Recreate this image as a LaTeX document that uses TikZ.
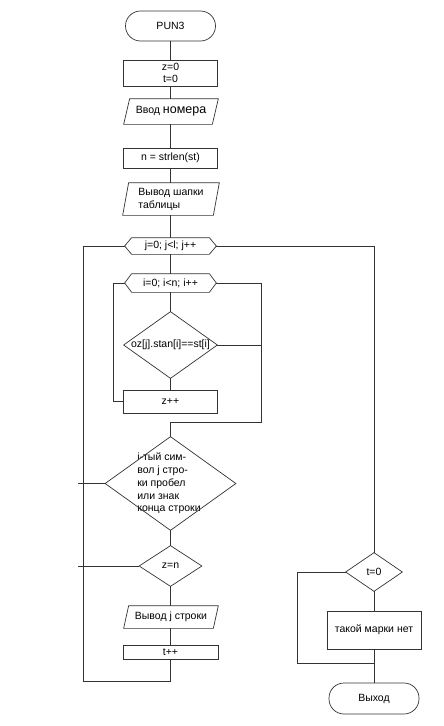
\documentclass[tikz,border=0pt]{standalone}
\usepackage{fontspec}
\setmainfont{Liberation Sans}
\begin{document}
\begin{tikzpicture}[x=1pt,y=-1pt,
  every path/.style={line width=0.7pt, draw=black!80},
  frame/.style={inner sep=0pt, font=\fontsize{10.5}{12}\selectfont, align=center},
  boxed/.style={frame, draw=black!80, line width=0.7pt},
  term/.style={boxed, rounded corners=15pt, minimum width=90pt, minimum height=30pt}]
\useasboundingbox[fill=white,draw=none] (0,0) rectangle (444,726);

% main column
\node[term] (start) at (170.5,26) {PUN3};
\node[boxed, minimum width=94pt, minimum height=26pt] (init) at (170.5,73) {z=0\\t=0};
\node[frame, minimum width=88pt, minimum height=25pt] (inp) at (171,111.5) {Ввод {\fontsize{12.5}{13}\selectfont номера}};
\draw ([xshift=3pt]inp.north west) -- ([xshift=3pt]inp.north east) -- ([xshift=-3pt]inp.south east) -- ([xshift=-3pt]inp.south west) -- cycle;
\node[boxed, minimum width=94pt, minimum height=20pt] (len) at (170.5,158) {n = strlen(st)};
\node[frame, minimum width=90pt, minimum height=32pt, align=left, font=\fontsize{10.5}{13}\selectfont] (head) at (171,199) {Вывод шапки\\таблицы\hspace*{11pt}};
\draw ([xshift=3pt]head.north west) -- ([xshift=3pt]head.north east) -- ([xshift=-3pt]head.south east) -- ([xshift=-3pt]head.south west) -- cycle;

\node[frame, minimum width=91pt, minimum height=16pt] (jl) at (170.5,246) {j=0; j<l; j++};
\draw (jl.west) -- ([xshift=7pt]jl.north west) -- ([xshift=-7pt]jl.north east) -- (jl.east) -- ([xshift=-7pt]jl.south east) -- ([xshift=7pt]jl.south west) -- cycle;
\node[frame, minimum width=91pt, minimum height=18pt] (il) at (170.5,283) {i=0; i<n; i++};
\draw (il.west) -- ([xshift=7pt]il.north west) -- ([xshift=-7pt]il.north east) -- (il.east) -- ([xshift=-7pt]il.south east) -- ([xshift=7pt]il.south west) -- cycle;

\node[frame, minimum width=93pt, minimum height=66pt] (cmp) at (170.5,345) {oz[j].stan[i]==st[i]};
\draw (cmp.north) -- (cmp.east) -- (cmp.south) -- (cmp.west) -- cycle;
\node[boxed, minimum width=94pt, minimum height=23pt] (zinc) at (170.5,401.5) {z++};

\node[frame, minimum width=130pt, minimum height=93pt, align=left, font=\fontsize{10.5}{12.7}\selectfont] (cb) at (169,483.5) {i-тый сим-\\вол j стро-\\ки пробел\\или знак\\конца строки};
\draw ([xshift=1.5pt]cb.north) -- ([xshift=1.5pt]cb.east) -- ([xshift=1.5pt]cb.south) -- ([xshift=1.5pt]cb.west) -- cycle;
\node[frame, minimum width=62pt, minimum height=40pt] (zn) at (170.5,566) {z=n};
\draw (zn.north) -- (zn.east) -- (zn.south) -- (zn.west) -- cycle;
\node[frame, minimum width=89pt, minimum height=22pt] (outj) at (171,617) {Вывод j строки};
\draw ([xshift=2.5pt]outj.north west) -- ([xshift=2.5pt]outj.north east) -- ([xshift=-2.5pt]outj.south east) -- ([xshift=-2.5pt]outj.south west) -- cycle;
\node[boxed, minimum width=95pt, minimum height=14pt] (tinc) at (170.5,652) {t++};

% right column
\node[frame, minimum width=56pt, minimum height=38pt] (t0) at (374,572) {t=0};
\draw (t0.north) -- (t0.east) -- (t0.south) -- (t0.west) -- cycle;
\node[boxed, minimum width=94pt, minimum height=38pt] (nomark) at (374,630) {такой марки нет};
\node[term, minimum height=31pt] (exit) at (374,698.5) {Выход};

% connectors
\draw (start.south) -- (init.north);
\draw (init.south) -- (inp.north -| init.south);
\draw (inp.south -| init.south) -- (len.north);
\draw (len.south) -- (head.north -| len.south);
\draw (head.south -| len.south) -- (jl.north);
\draw (jl.south) -- (il.north);
\draw (il.south) -- (cmp.north);
\draw (cmp.south) -- (zinc.north);
\draw (zinc.west) -- ++(-10,0) |- (il.west);
\draw (il.east) -| (261,422) -| (zn.north |- cb.north);
\draw (cmp.east) -- (261,345);
\draw (zn.north |- cb.south) -- (zn.north);
\draw (zn.south) -- (outj.north -| zn.south);
\draw (outj.south -| zn.south) -- (tinc.north);
\draw (tinc.south) -- ++(0,22) -| (83,246) -- (jl.west);
\draw ([xshift=1.5pt]cb.west) -- (78,483.5);
\draw (zn.west) -- (78,566);
\draw (jl.east) -| (t0.north);
\draw (t0.south) -- (nomark.north);
\draw (nomark.south) -- (exit.north);
\draw (t0.west) -| (297,663) -- (374,663);
\end{tikzpicture}
\end{document}
